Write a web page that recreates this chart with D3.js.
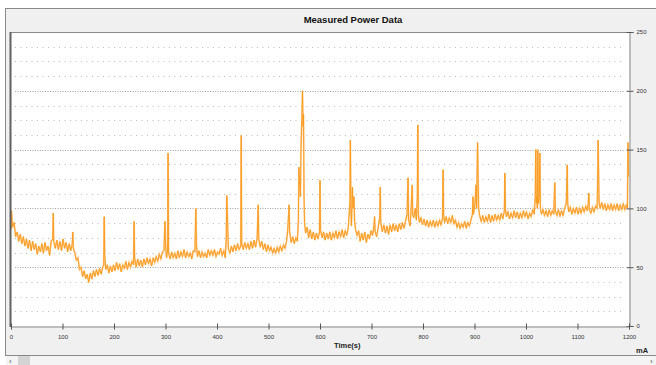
<!DOCTYPE html>
<html>
<head>
<meta charset="utf-8">
<script src="https://cdn.jsdelivr.net/npm/d3@7"></script>
<style>
  body { margin: 0; background: #fff; }
  svg { display: block; font-family: "Liberation Sans", Arial, sans-serif; }
</style>
</head>
<body>
<div id="container"></div>
<script>
const title = "Measured Power Data"
const xLabel = "Time(s)"
const yUnit = "mA"

const xTicks = [0, 100, 200, 300, 400, 500, 600, 700, 800, 900, 1000, 1100, 1200]
const yTicks = [0, 50, 100, 150, 200, 250]

// [time (s), current (mA)]
const power = [
  [0, 82], [1, 98], [3, 84], [6, 88], [9, 76], [12, 80], [15, 72], [18, 78], [21, 70], [24, 76],
  [27, 68], [30, 74], [33, 66], [36, 73], [39, 64], [42, 72], [45, 65], [48, 70], [51, 61], [54, 68],
  [57, 63], [60, 70], [63, 62], [66, 71], [69, 64], [72, 68], [75, 60], [78, 72], [81, 74], [82, 96],
  [83, 72], [86, 66], [89, 73], [92, 65], [95, 72], [98, 64], [101, 74], [104, 66], [107, 71], [110, 63],
  [113, 70], [116, 64], [119, 70], [120, 80], [121, 66], [124, 62], [127, 56], [130, 58], [133, 48], [136, 50],
  [139, 42], [142, 47], [145, 40], [148, 44], [151, 37], [154, 45], [157, 40], [160, 47], [163, 42], [166, 48],
  [169, 43], [172, 49], [175, 44], [178, 50], [180, 52], [181, 93], [182, 60], [184, 48], [187, 52], [190, 45],
  [193, 51], [196, 46], [199, 52], [202, 47], [205, 54], [208, 48], [211, 53], [214, 46], [217, 52], [220, 49],
  [223, 55], [226, 48], [229, 54], [232, 50], [235, 55], [238, 52], [239, 89], [240, 58], [243, 50], [246, 57],
  [249, 51], [252, 56], [255, 50], [258, 57], [261, 52], [264, 58], [267, 53], [270, 57], [273, 51], [276, 58],
  [279, 54], [282, 59], [285, 55], [288, 61], [291, 57], [294, 63], [297, 64], [299, 89], [300, 70], [302, 58],
  [304, 64], [305, 147], [306, 62], [309, 57], [312, 63], [315, 58], [318, 62], [321, 57], [324, 64], [327, 58],
  [330, 63], [333, 59], [336, 65], [339, 58], [342, 63], [345, 59], [348, 62], [351, 57], [354, 64], [357, 63],
  [359, 100], [360, 70], [362, 59], [365, 64], [368, 58], [371, 63], [374, 59], [377, 62], [380, 58], [383, 65],
  [386, 60], [389, 64], [392, 60], [395, 65], [398, 59], [401, 63], [404, 61], [407, 66], [410, 60], [413, 64],
  [416, 58], [418, 75], [419, 111], [420, 96], [422, 66], [425, 62], [428, 68], [431, 63], [434, 69], [437, 64],
  [440, 70], [443, 65], [446, 68], [447, 162], [448, 70], [451, 65], [454, 71], [457, 66], [460, 70], [463, 65],
  [466, 72], [469, 66], [472, 73], [475, 67], [478, 75], [480, 103], [481, 74], [484, 67], [487, 72], [490, 65],
  [493, 70], [496, 63], [499, 69], [502, 64], [505, 67], [508, 62], [511, 66], [514, 62], [517, 67], [520, 63],
  [523, 68], [526, 64], [529, 69], [532, 66], [535, 72], [537, 80], [539, 95], [540, 103], [541, 80], [544, 71],
  [547, 76], [550, 70], [553, 75], [556, 72], [558, 90], [559, 135], [560, 124], [562, 110], [563, 150], [565, 180],
  [566, 200], [567, 170], [568, 180], [569, 110], [570, 88], [572, 79], [575, 84], [578, 75], [581, 82], [584, 74],
  [587, 80], [590, 73], [593, 79], [596, 74], [599, 80], [600, 124], [601, 82], [604, 75], [607, 80], [610, 73],
  [613, 79], [616, 74], [619, 80], [622, 73], [625, 79], [628, 75], [631, 81], [634, 74], [637, 80], [640, 76],
  [643, 82], [646, 75], [649, 81], [652, 77], [655, 84], [658, 105], [659, 158], [660, 100], [661, 85], [663, 118],
  [664, 100], [666, 110], [667, 90], [669, 82], [672, 77], [675, 81], [678, 72], [681, 79], [684, 73], [687, 80],
  [690, 71], [693, 78], [696, 74], [699, 81], [702, 77], [705, 86], [706, 93], [707, 80], [710, 76], [713, 84],
  [716, 92], [717, 118], [718, 88], [721, 80], [724, 86], [727, 79], [730, 85], [733, 78], [736, 86], [739, 80],
  [742, 87], [745, 81], [748, 86], [751, 80], [754, 87], [757, 82], [760, 88], [763, 83], [766, 89], [769, 95],
  [771, 126], [772, 90], [775, 85], [777, 100], [779, 120], [780, 95], [782, 92], [785, 100], [787, 90], [789, 110],
  [790, 171], [791, 95], [793, 88], [796, 92], [799, 86], [802, 91], [805, 85], [808, 90], [811, 84], [814, 89],
  [817, 85], [820, 90], [823, 84], [826, 89], [829, 85], [832, 90], [835, 86], [838, 92], [839, 133], [840, 95],
  [842, 88], [845, 93], [848, 87], [851, 92], [854, 88], [857, 94], [860, 87], [863, 90], [866, 84], [869, 88],
  [872, 83], [875, 87], [878, 84], [881, 89], [884, 83], [887, 88], [890, 85], [893, 90], [896, 95], [897, 110],
  [898, 95], [901, 105], [903, 120], [904, 100], [906, 156], [907, 130], [908, 100], [910, 94], [913, 89], [916, 94],
  [919, 88], [922, 93], [925, 89], [928, 95], [931, 88], [934, 94], [937, 89], [940, 95], [943, 90], [946, 94],
  [949, 90], [952, 96], [955, 91], [958, 98], [959, 130], [960, 100], [962, 93], [965, 97], [968, 91], [971, 96],
  [974, 92], [977, 98], [980, 92], [983, 97], [986, 91], [989, 96], [992, 92], [995, 98], [998, 93], [1001, 97],
  [1004, 91], [1007, 96], [1010, 93], [1013, 99], [1016, 95], [1018, 110], [1019, 150], [1020, 105], [1021, 110], [1022, 100],
  [1023, 150], [1024, 104], [1026, 110], [1027, 147], [1028, 100], [1030, 95], [1033, 99], [1036, 94], [1039, 98], [1042, 93],
  [1045, 99], [1048, 94], [1051, 98], [1054, 95], [1055, 110], [1056, 122], [1057, 98], [1060, 94], [1063, 99], [1066, 93],
  [1069, 98], [1072, 94], [1075, 100], [1078, 104], [1079, 115], [1080, 137], [1081, 104], [1083, 97], [1086, 101], [1089, 95],
  [1092, 100], [1095, 96], [1098, 101], [1101, 95], [1104, 100], [1107, 96], [1110, 101], [1113, 97], [1116, 102], [1119, 98],
  [1121, 105], [1122, 113], [1123, 99], [1126, 96], [1129, 101], [1132, 97], [1135, 102], [1138, 100], [1139, 120], [1140, 158],
  [1141, 130], [1142, 104], [1144, 100], [1147, 105], [1150, 99], [1153, 104], [1156, 98], [1159, 103], [1162, 99], [1165, 104],
  [1168, 98], [1171, 103], [1174, 99], [1177, 104], [1180, 98], [1183, 103], [1186, 99], [1189, 104], [1192, 99], [1195, 103],
  [1197, 100], [1198, 156], [1199, 128], [1200, 127]
]

let W = 656, H = 365
let pLeft = 11, pRight = 629, pTop = 32, pBottom = 326

let svg = d3.select("#container").append("svg")
    .attr("width", W)
    .attr("height", H)

// window panel
svg.append("rect")
    .attr("x", 5.5).attr("y", 8.5)
    .attr("width", W).attr("height", 347)
    .attr("fill", "#f0f0f0")
    .attr("stroke", "#8a8a8a")

// scroll bar
svg.append("rect")
    .attr("x", 6).attr("y", 356)
    .attr("width", W).attr("height", 9)
    .attr("fill", "#f4f4f4")
svg.append("rect")
    .attr("x", 18).attr("y", 356)
    .attr("width", 12).attr("height", 9)
    .attr("fill", "#d4d4d4")
svg.append("text").text("‹")
    .attr("x", 9).attr("y", 364)
    .attr("font-size", 8).attr("fill", "#555")
svg.append("text").text("›")
    .attr("x", 650).attr("y", 364)
    .attr("font-size", 8).attr("fill", "#555")

svg.append("text")
    .text(title)
    .attr("x", 353).attr("y", 23)
    .attr("text-anchor", "middle")
    .attr("font-size", 9.5)
    .attr("font-weight", "bold")
    .attr("fill", "#111")

let x = d3.scaleLinear().domain([0, 1200]).range([pLeft, pRight])
let y = d3.scaleLinear().domain([0, 250]).range([pBottom, pTop])

svg.append("rect")
    .attr("x", pLeft).attr("y", pTop)
    .attr("width", pRight - pLeft).attr("height", pBottom - pTop)
    .attr("fill", "#fff")

// grid: dotted minor every 12.5, denser on the 50s
let minor = d3.range(12.5, 250, 12.5).filter(v => v % 50 != 0)
svg.append("g").selectAll("line")
    .data(minor)
    .join("line")
    .attr("x1", pLeft + 4).attr("x2", pRight - 4)
    .attr("y1", d => Math.round(y(d)) + 0.5)
    .attr("y2", d => Math.round(y(d)) + 0.5)
    .attr("stroke", "#b8b8b8")
    .attr("stroke-dasharray", "1,4.5")

svg.append("g").selectAll("line")
    .data(yTicks.filter(v => v > 0 && v < 250))
    .join("line")
    .attr("x1", pLeft + 4).attr("x2", pRight - 4)
    .attr("y1", d => Math.round(y(d)) + 0.5)
    .attr("y2", d => Math.round(y(d)) + 0.5)
    .attr("stroke", "#a0a0a0")
    .attr("stroke-dasharray", "1,1.5")

// trace
let line = d3.line()
    .x(d => x(d[0]))
    .y(d => y(d[1]))

svg.append("path")
    .datum(power)
    .attr("d", line)
    .attr("fill", "none")
    .attr("stroke", "#ffd29c")
    .attr("stroke-width", 1.8)
svg.append("path")
    .datum(power)
    .attr("d", line)
    .attr("fill", "none")
    .attr("stroke", "#f8981a")
    .attr("stroke-width", 0.9)

// frame
svg.append("line")
    .attr("x1", pLeft).attr("x2", pRight)
    .attr("y1", pTop + 0.5).attr("y2", pTop + 0.5)
    .attr("stroke", "#8a8a8a")
svg.append("line")
    .attr("x1", pLeft - 0.5).attr("x2", pLeft - 0.5)
    .attr("y1", pTop).attr("y2", pBottom + 1)
    .attr("stroke", "#606060")
    .attr("stroke-width", 2)

// right axis
let yAxis = svg.append("g")
    .attr("transform", `translate(${pRight + 0.5},0)`)
    .call(d3.axisRight(y).tickValues(yTicks).tickSize(4).tickPadding(3))
yAxis.select(".domain").attr("stroke", "#8a8a8a")
yAxis.selectAll(".tick line").attr("x1", -3).attr("stroke", "#555")
yAxis.selectAll(".tick text")
    .attr("font-size", 6)
    .attr("font-family", "Liberation Sans, Arial, sans-serif")
    .attr("fill", "#333")

// bottom axis
let xAxis = svg.append("g")
    .attr("transform", `translate(0,${pBottom + 0.5})`)
    .call(d3.axisBottom(x).tickValues(xTicks).tickFormat(d3.format("d")).tickSize(3).tickPadding(5))
xAxis.select(".domain").attr("stroke", "#8a8a8a")
xAxis.selectAll(".tick line").attr("y1", -3).attr("stroke", "#555")
xAxis.selectAll(".tick text")
    .attr("font-size", 6)
    .attr("font-family", "Liberation Sans, Arial, sans-serif")
    .attr("fill", "#333")

svg.append("text")
    .text(xLabel)
    .attr("x", 334).attr("y", 348)
    .attr("font-size", 7.5)
    .attr("font-weight", "bold")
    .attr("fill", "#222")

svg.append("text")
    .text(yUnit)
    .attr("x", 636).attr("y", 353)
    .attr("font-size", 7.5)
    .attr("font-weight", "bold")
    .attr("fill", "#222")
</script>
</body>
</html>
